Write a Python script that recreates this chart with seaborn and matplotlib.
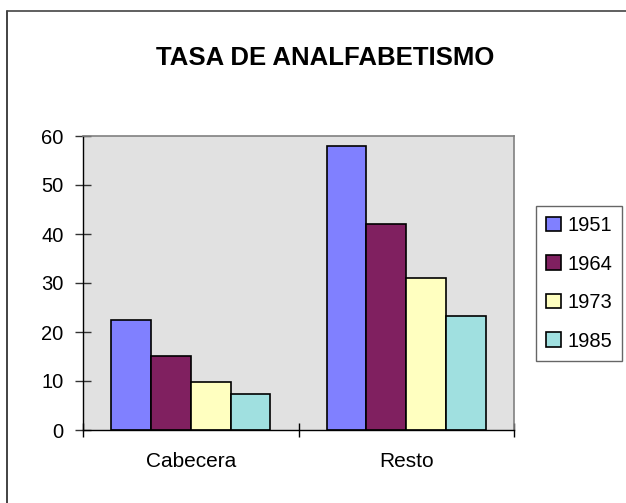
import pandas as pd
import seaborn as sns
import matplotlib.pyplot as plt
from matplotlib.lines import Line2D

# data
zones = ["Cabecera", "Resto"]
years = ["1951", "1964", "1973", "1985"]
rate_1951 = [22.4, 58.0]
rate_1964 = [15.2, 42.0]
rate_1973 = [9.7, 31.0]
rate_1985 = [7.3, 23.2]
year_colors = ["#8080FF", "#802060", "#FFFFC0", "#A0E0E0"]

rows = []
for year, values in zip(years, [rate_1951, rate_1964, rate_1973, rate_1985]):
    for zone, v in zip(zones, values):
        rows.append({"zona": zone, "year": year, "tasa": v})
plot_df = pd.DataFrame(rows)

sns.set_theme(style="white")
plt.rcParams["font.family"] = ["Liberation Sans", "DejaVu Sans"]
plt.rcParams["text.color"] = "black"
plt.rcParams["xtick.color"] = "black"
plt.rcParams["ytick.color"] = "black"

fig = plt.figure(figsize=(6.26, 5.03), dpi=100)
ax = fig.add_axes([83 / 626, 73 / 503, 431 / 626, 294 / 503])
ax.set_facecolor("#E1E1E1")

sns.barplot(data=plot_df, x="zona", y="tasa", hue="year", hue_order=years,
            palette=year_colors, width=0.74, gap=0, edgecolor="black",
            linewidth=1.2, saturation=1, ax=ax, legend=True)

ax.set_xlim(-0.5, 1.5)
ax.set_ylim(0, 60)
ax.set_yticks(range(0, 61, 10))
ax.set_xticks([-0.5, 0.5, 1.5], minor=False)
ax.set_xticklabels([])
ax.set_xticks([0, 1], minor=True)
ax.set_xticklabels(zones, minor=True)
ax.set_xlabel("")
ax.set_ylabel("")

ax.tick_params(axis="y", which="major", direction="inout", length=12, width=1,
               color="#333333", labelsize=14.5, pad=8, left=True)
ax.tick_params(axis="x", which="major", direction="inout", length=10, width=1,
               color="black", bottom=True)
ax.tick_params(axis="x", which="minor", length=0, labelsize=15, pad=16)

for side in ["left", "bottom"]:
    ax.spines[side].set_color("black")
    ax.spines[side].set_linewidth(1.0)
for side in ["top", "right"]:
    ax.spines[side].set_color("#808080")
    ax.spines[side].set_linewidth(1.2)

# legend
handles, labels = ax.get_legend_handles_labels()
ax.get_legend().remove()
leg = fig.legend(handles, labels, loc="upper left",
                 bbox_to_anchor=(536 / 626, 1 - 206 / 503), borderaxespad=0,
                 fontsize=14.5, frameon=True, fancybox=False,
                 handlelength=0.72, handleheight=0.72, handletextpad=0.33,
                 labelspacing=0.97, borderpad=0.5)
leg.get_frame().set_edgecolor("#404040")
leg.get_frame().set_linewidth(1.0)

fig.text(0.519, 1 - 58 / 503, "TASA DE ANALFABETISMO", ha="center",
         va="center", fontsize=18.5, fontweight="bold")

# outer chart border (left and top edges visible)
fig.add_artist(Line2D([7 / 626, 7 / 626], [0, 1 - 11 / 503],
                      transform=fig.transFigure, color="#222222", lw=1.2))
fig.add_artist(Line2D([7 / 626, 1], [1 - 11 / 503, 1 - 11 / 503],
                      transform=fig.transFigure, color="#444444", lw=1.2))

fig.savefig("out.png", dpi=100)
